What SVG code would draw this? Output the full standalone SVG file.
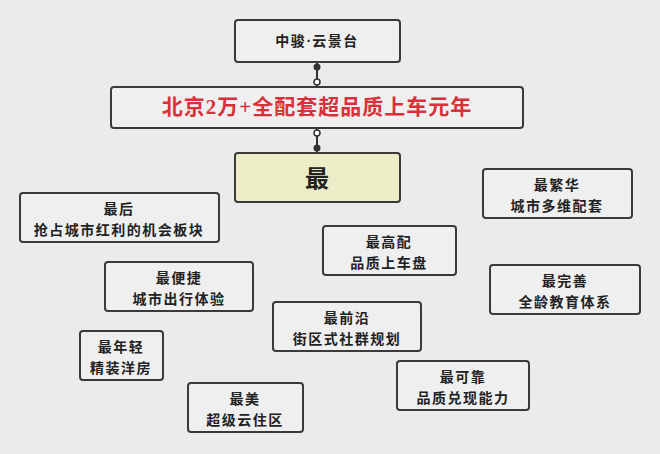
<svg xmlns="http://www.w3.org/2000/svg" width="660" height="454" viewBox="0 0 660 454">
<style>
.b{fill:#efefef;stroke:#3a3a3a;stroke-width:2}
.t{font-family:"Liberation Serif","Noto Sans CJK SC",serif;font-size:14px;fill:#222;text-anchor:middle;font-weight:bold;letter-spacing:1.5px}
.c{stroke:#333;stroke-width:2}
.f{fill:#333}
.h{fill:#fff;stroke:#333;stroke-width:1.5}
</style>
<rect width="660" height="454" fill="#ebebeb"/>
<g id="connectors">
<line class="c" x1="317" y1="62" x2="317" y2="87"/>
<circle class="f" cx="317" cy="67" r="3.5"/><circle class="h" cx="317" cy="82" r="3"/>
<line class="c" x1="317" y1="128" x2="317" y2="153"/>
<circle class="h" cx="317" cy="133" r="3"/><circle class="f" cx="317" cy="148" r="3.5"/>
</g>
<g id="n0"><rect class="b" x="235" y="20" width="165" height="42" rx="3"/><text class="t" x="317" y="46">中骏·云景台</text></g>
<g id="n1"><rect class="b" x="111" y="87" width="412" height="41" rx="3"/><text class="t" x="317" y="114" style="font-size:21px;fill:#d9303a;letter-spacing:1px">北京2万+全配套超品质上车元年</text></g>
<g id="n2"><rect class="b" x="235" y="153" width="165" height="49" rx="3" style="fill:#ececc6"/><text class="t" x="317" y="187" style="font-size:24px;letter-spacing:0">最</text></g>
<g id="n3"><rect class="b" x="20" y="193" width="199" height="49" rx="3"/><text class="t" x="119" y="214">最后</text><text class="t" x="119" y="235">抢占城市红利的机会板块</text></g>
<g id="n4"><rect class="b" x="105" y="262" width="148" height="49" rx="3"/><text class="t" x="179" y="283">最便捷</text><text class="t" x="179" y="304">城市出行体验</text></g>
<g id="n5"><rect class="b" x="80" y="331" width="83" height="49" rx="3"/><text class="t" x="121" y="352">最年轻</text><text class="t" x="121" y="373">精装洋房</text></g>
<g id="n6"><rect class="b" x="188" y="383" width="115" height="49" rx="3"/><text class="t" x="245" y="404">最美</text><text class="t" x="245" y="425">超级云住区</text></g>
<g id="n7"><rect class="b" x="323" y="226" width="133" height="49" rx="3"/><text class="t" x="389" y="247">最高配</text><text class="t" x="389" y="268">品质上车盘</text></g>
<g id="n8"><rect class="b" x="273" y="302" width="148" height="49" rx="3"/><text class="t" x="347" y="323">最前沿</text><text class="t" x="347" y="344">街区式社群规划</text></g>
<g id="n9"><rect class="b" x="397" y="361" width="132" height="49" rx="3"/><text class="t" x="463" y="382">最可靠</text><text class="t" x="463" y="403">品质兑现能力</text></g>
<g id="n10"><rect class="b" x="483" y="169" width="149" height="49" rx="3"/><text class="t" x="557" y="190">最繁华</text><text class="t" x="557" y="211">城市多维配套</text></g>
<g id="n11"><rect class="b" x="490" y="265" width="150" height="49" rx="3"/><text class="t" x="565" y="286">最完善</text><text class="t" x="565" y="307">全龄教育体系</text></g>
</svg>
